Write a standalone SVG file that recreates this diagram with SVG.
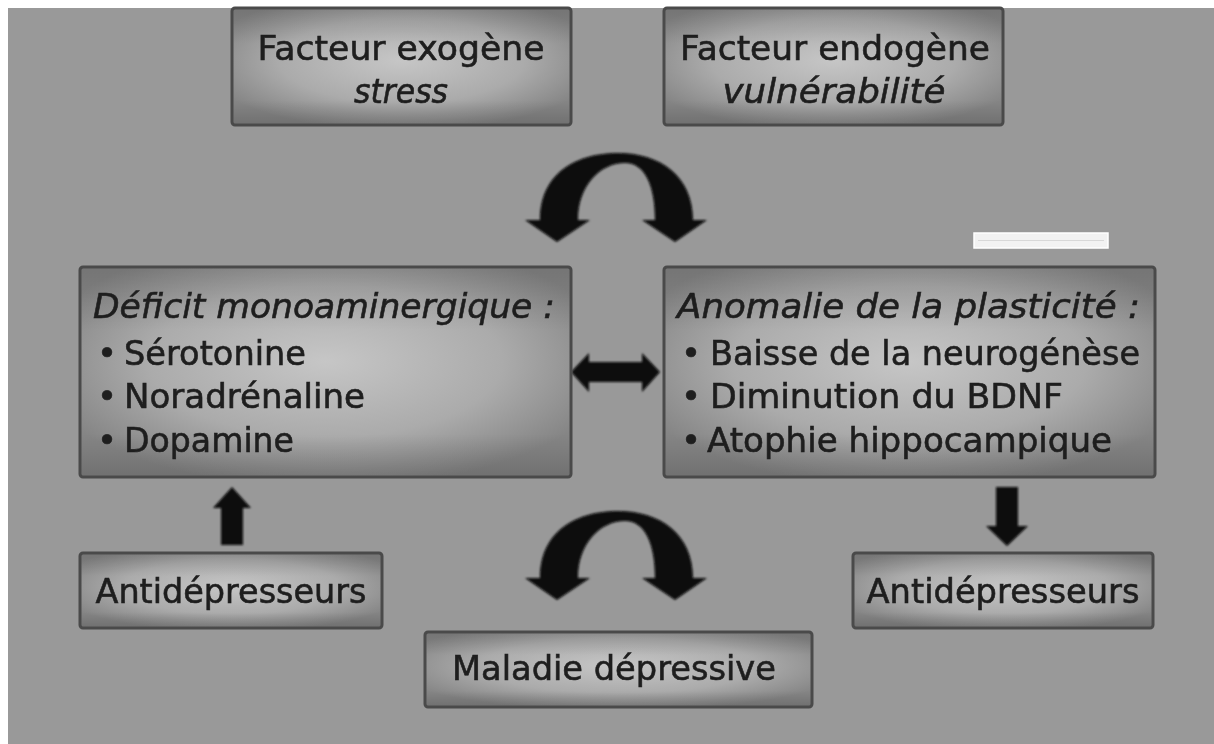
<svg xmlns="http://www.w3.org/2000/svg" width="1214" height="744" viewBox="0 0 1214 744">
  <defs>
    <radialGradient id="boxfill" cx="0.5" cy="0.45" r="0.6">
      <stop offset="0" stop-color="#c6c6c6"/>
      <stop offset="0.6" stop-color="#ababab"/>
      <stop offset="1" stop-color="#858585"/>
    </radialGradient>
    <linearGradient id="shade" x1="0" y1="0" x2="0" y2="1">
      <stop offset="0" stop-color="#000" stop-opacity="0.12"/>
      <stop offset="0.3" stop-color="#000" stop-opacity="0"/>
      <stop offset="0.8" stop-color="#000" stop-opacity="0"/>
      <stop offset="1" stop-color="#000" stop-opacity="0.15"/>
    </linearGradient>
    <filter id="soft" x="-5%" y="-5%" width="110%" height="110%">
      <feGaussianBlur stdDeviation="0.8"/>
    </filter>
  </defs>
  <style>
    .box { fill: url(#boxfill); stroke: #4a4a4a; stroke-width: 3; }
    .sh { fill: url(#shade); stroke: none; }
    .t { font-family: "DejaVu Sans", "Liberation Sans", sans-serif; font-size: 34px; fill: #1e1e1e; stroke: #1e1e1e; stroke-width: 0.6; }
    .i { font-style: italic; }
    .c { text-anchor: middle; }
    .arrow { fill: #080808; }
  </style>
  <rect x="0" y="0" width="1214" height="744" fill="#999999"/>
  <rect x="0" y="0" width="8" height="744" fill="#ffffff"/>
  <rect x="0" y="0" width="1214" height="8" fill="#ffffff"/>

  <g id="connectors" filter="url(#soft)">
    <path id="arc-top" class="arrow" d="M 540 220 C 540 172, 578 153, 618 153 C 660 153, 693 176, 693 220 L 707 220 L 675 242 L 642 220 L 655 220 C 655 186, 645 163, 625 163 C 600 163, 578 186, 578 220 L 590 220 L 557 242 L 525 220 Z"/>
    <path id="arc-bottom" class="arrow" transform="translate(0,358)" d="M 540 220 C 540 172, 578 153, 618 153 C 660 153, 693 176, 693 220 L 707 220 L 675 242 L 642 220 L 655 220 C 655 186, 645 163, 625 163 C 600 163, 578 186, 578 220 L 590 220 L 557 242 L 525 220 Z"/>
    <path id="double-arrow" class="arrow" d="M 571 372 L 589 353 L 589 362 L 642 362 L 642 353 L 660 372 L 642 392 L 642 382 L 589 382 L 589 392 Z"/>
    <path id="up-arrow" class="arrow" d="M 232 487 L 251 508 L 243 508 L 243 545 L 221 545 L 221 508 L 213 508 Z"/>
    <path id="down-arrow" class="arrow" d="M 996 487 L 1018 487 L 1018 526 L 1028 526 L 1007 546 L 986 526 L 996 526 Z"/>
  </g>

  <rect x="974" y="233" width="134" height="15" fill="#f2f2f2" stroke="#ffffff" stroke-width="1.5"/>
  <line x1="978" y1="240.5" x2="1104" y2="240.5" stroke="#d8d8d8" stroke-width="1"/>

  <g id="exogene">
    <rect class="box" x="232" y="8" width="339" height="117" rx="3"/>
    <rect class="sh" x="233.5" y="9.5" width="336" height="114"/>
    <text class="t c" x="401" y="60" textLength="287" lengthAdjust="spacingAndGlyphs">Facteur exogène</text>
    <text class="t c i" x="401" y="103" textLength="94" lengthAdjust="spacingAndGlyphs">stress</text>
  </g>

  <g id="endogene">
    <rect class="box" x="664" y="8" width="339" height="117" rx="3"/>
    <rect class="sh" x="665.5" y="9.5" width="336" height="114"/>
    <text class="t c" x="835" y="60" textLength="310" lengthAdjust="spacingAndGlyphs">Facteur endogène</text>
    <text class="t c i" x="834" y="103" textLength="223" lengthAdjust="spacingAndGlyphs">vulnérabilité</text>
  </g>

  <g id="deficit">
    <rect class="box" x="80" y="267" width="491" height="210" rx="3"/>
    <rect class="sh" x="81.5" y="268.5" width="488" height="207"/>
    <text class="t i" x="93" y="318" textLength="462" lengthAdjust="spacingAndGlyphs">Déficit monoaminergique :</text>
    <text class="t" x="97" y="365">•</text>
    <text class="t" x="124" y="365" textLength="182" lengthAdjust="spacingAndGlyphs">Sérotonine</text>
    <text class="t" x="97" y="408">•</text>
    <text class="t" x="124" y="408" textLength="241" lengthAdjust="spacingAndGlyphs">Noradrénaline</text>
    <text class="t" x="97" y="452">•</text>
    <text class="t" x="124" y="452" textLength="170" lengthAdjust="spacingAndGlyphs">Dopamine</text>
  </g>

  <g id="plasticite">
    <rect class="box" x="664" y="267" width="491" height="210" rx="3"/>
    <rect class="sh" x="665.5" y="268.5" width="488" height="207"/>
    <text class="t i" x="677" y="318" textLength="463" lengthAdjust="spacingAndGlyphs">Anomalie de la plasticité :</text>
    <text class="t" x="681" y="365">•</text>
    <text class="t" x="710" y="365" textLength="430" lengthAdjust="spacingAndGlyphs">Baisse de la neurogénèse</text>
    <text class="t" x="681" y="408">•</text>
    <text class="t" x="710" y="408" textLength="353" lengthAdjust="spacingAndGlyphs">Diminution du BDNF</text>
    <text class="t" x="681" y="452">•</text>
    <text class="t" x="707" y="452" textLength="405" lengthAdjust="spacingAndGlyphs">Atophie hippocampique</text>
  </g>

  <g id="antidep-left">
    <rect class="box" x="80" y="553" width="302" height="75" rx="3"/>
    <rect class="sh" x="81.5" y="554.5" width="299" height="72"/>
    <text class="t c" x="231" y="603" textLength="271" lengthAdjust="spacingAndGlyphs">Antidépresseurs</text>
  </g>

  <g id="antidep-right">
    <rect class="box" x="853" y="553" width="300" height="75" rx="3"/>
    <rect class="sh" x="854.5" y="554.5" width="297" height="72"/>
    <text class="t c" x="1003" y="603" textLength="273" lengthAdjust="spacingAndGlyphs">Antidépresseurs</text>
  </g>

  <g id="maladie">
    <rect class="box" x="425" y="632" width="387" height="75" rx="3"/>
    <rect class="sh" x="426.5" y="633.5" width="384" height="72"/>
    <text class="t c" x="614" y="680" textLength="324" lengthAdjust="spacingAndGlyphs">Maladie dépressive</text>
  </g>
</svg>
